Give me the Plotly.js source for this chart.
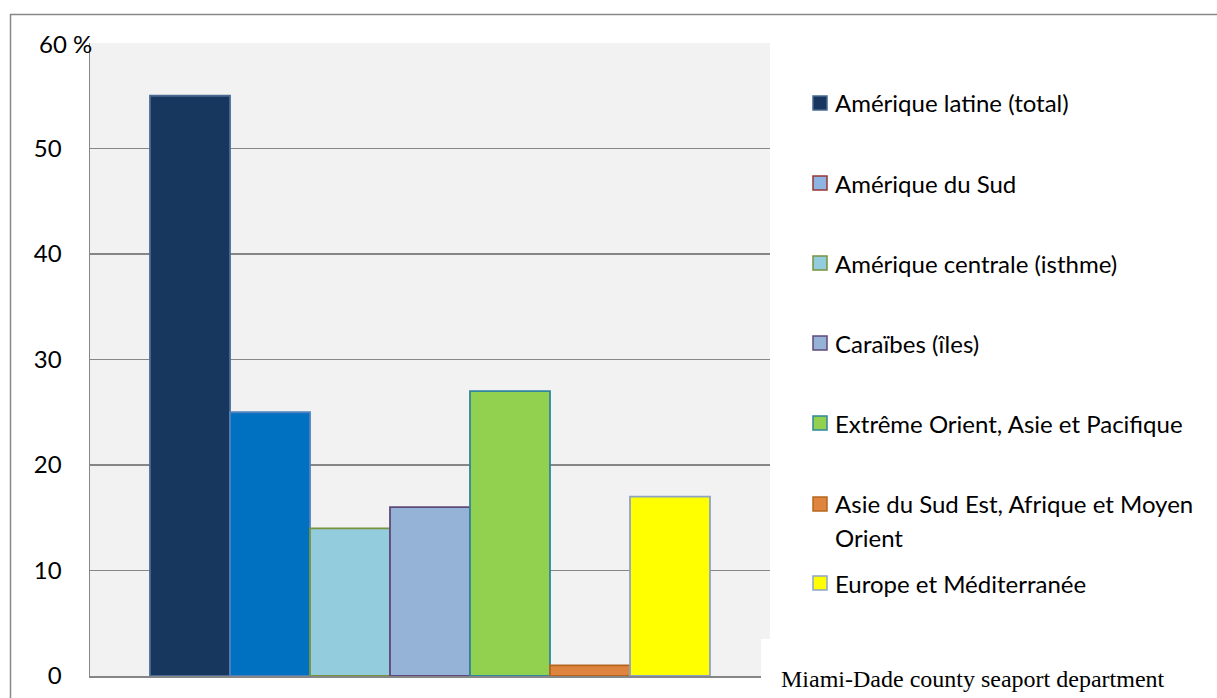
<!DOCTYPE html>
<html>
<head>
<meta charset="utf-8">
<script src="https://cdn.plot.ly/plotly-3.0.1.min.js"></script>
<style>
  html, body { margin: 0; padding: 0; background: #ffffff; }
  #chart { width: 1217px; height: 698px; }
</style>
</head>
<body>
<div id="chart"></div>
<script>
// ---- data ----
const categories = [
  "Amérique latine (total)",
  "Amérique du Sud",
  "Amérique centrale (isthme)",
  "Caraïbes (îles)",
  "Extrême Orient, Asie et Pacifique",
  "Asie du Sud Est, Afrique et Moyen Orient",
  "Europe et Méditerranée"
];
const legendLabels = [
  "Amérique latine (total)",
  "Amérique du Sud",
  "Amérique centrale (isthme)",
  "Caraïbes (îles)",
  "Extrême Orient, Asie et Pacifique",
  "Asie du Sud Est, Afrique et Moyen|Orient",
  "Europe et Méditerranée"
];
const values = [55, 25, 14, 16, 27, 1, 17];
const barColors = ["#17375E", "#0070C0", "#93CDDD", "#95B3D7", "#92D050", "#DE843F", "#FFFF00"];
const barLineColors = ["#4A6A93", "#4F81BD", "#77933C", "#5F497A", "#31859C", "#B6651E", "#8EA3C8"];
const legendColors = ["#17375E", "#8DB4E2", "#93CDDD", "#95B3D7", "#92D050", "#DE843F", "#FFFF00"];
const legendLineColors = ["#4A6A93", "#953735", "#77933C", "#5F497A", "#31859C", "#B6651E", "#8EA3C8"];
const yTickVals = [0, 10, 20, 30, 40, 50];
const yTickText = ["0", "10", "20", "30", "40", "50"];
const topLabel = "60 %";
const sourceText = "Miami-Dade county seaport department";

// ---- geometry helpers (pixel -> paper) ----
const W = 1217, H = 698;
const L = 90, R = 770, T = 43, B = 676;
const px = x => (x - L) / (R - L);
const py = y => (B - y) / (B - T);

const FONT = "Lato, 'Open Sans', sans-serif";

const trace = {
  type: "bar",
  x: categories,
  y: values,
  width: 1,
  marker: { color: barColors, line: { color: barLineColors, width: 1.8 } },
  showlegend: false,
  hoverinfo: "x+y"
};

const shapes = [];
const annotations = [];

// outer chart frame
shapes.push({ type: "line", xref: "paper", yref: "paper", x0: px(10), x1: px(1220), y0: py(14.5), y1: py(14.5), line: { color: "#888888", width: 1.5 } });
shapes.push({ type: "line", xref: "paper", yref: "paper", x0: px(10.5), x1: px(10.5), y0: py(14), y1: py(705), line: { color: "#888888", width: 1.5 } });

// white box for source text
shapes.push({ type: "rect", xref: "paper", yref: "paper", x0: px(761), x1: px(1225), y0: py(639), y1: py(705), fillcolor: "#ffffff", line: { width: 0 }, layer: "above" });

// manual legend
const itemY = [103, 183, 263, 343, 423, 504, 583];
legendLabels.forEach((lab, i) => {
  const yc = itemY[i];
  shapes.push({ type: "rect", xref: "paper", yref: "paper", x0: px(813), x1: px(827), y0: py(yc + 7), y1: py(yc - 7), fillcolor: legendColors[i], line: { color: legendLineColors[i], width: 1.5 } });
  const lines = lab.split("|");
  lines.forEach((ln, k) => {
    annotations.push({ xref: "paper", yref: "paper", x: px(833), y: py(yc + k * 33), xanchor: "left", yanchor: "middle", text: ln, showarrow: false, font: { family: FONT, size: 24, color: "#000000" } });
  });
});

// "60 %" label
annotations.push({ xref: "paper", yref: "y", x: px(37), y: 60, xanchor: "left", yanchor: "middle", text: topLabel, showarrow: false, font: { family: FONT, size: 24, color: "#000000" } });

// source text
annotations.push({ xref: "paper", yref: "paper", x: px(779), y: py(679), xanchor: "left", yanchor: "middle", text: sourceText, showarrow: false, font: { family: "'Liberation Serif', 'Times New Roman', serif", size: 24, color: "#000000" } });

const layout = {
  width: W, height: H,
  margin: { l: L, r: W - R, t: T, b: H - B, pad: 0 },
  paper_bgcolor: "#ffffff",
  plot_bgcolor: "#F2F2F2",
  showlegend: false,
  bargap: 0,
  xaxis: {
    type: "category",
    range: [-1.25, 7.25],
    showticklabels: false,
    ticks: "",
    showgrid: false,
    zeroline: false,
    showline: true,
    linecolor: "#868686",
    linewidth: 1.5,
    fixedrange: true
  },
  yaxis: {
    range: [0, 60],
    tickvals: yTickVals.concat([60]),
    ticktext: yTickText.concat([""]),
    ticks: "",
    ticklabelstandoff: 22,
    tickfont: { family: FONT, size: 24, color: "#000000" },
    showgrid: true,
    gridcolor: "#868686",
    gridwidth: 1.3,
    zeroline: false,
    showline: true,
    linecolor: "#868686",
    linewidth: 1.5,
    fixedrange: true
  },
  shapes: shapes,
  annotations: annotations
};

Plotly.newPlot("chart", [trace], layout, { displayModeBar: false, staticPlot: true });
</script>
</body>
</html>
